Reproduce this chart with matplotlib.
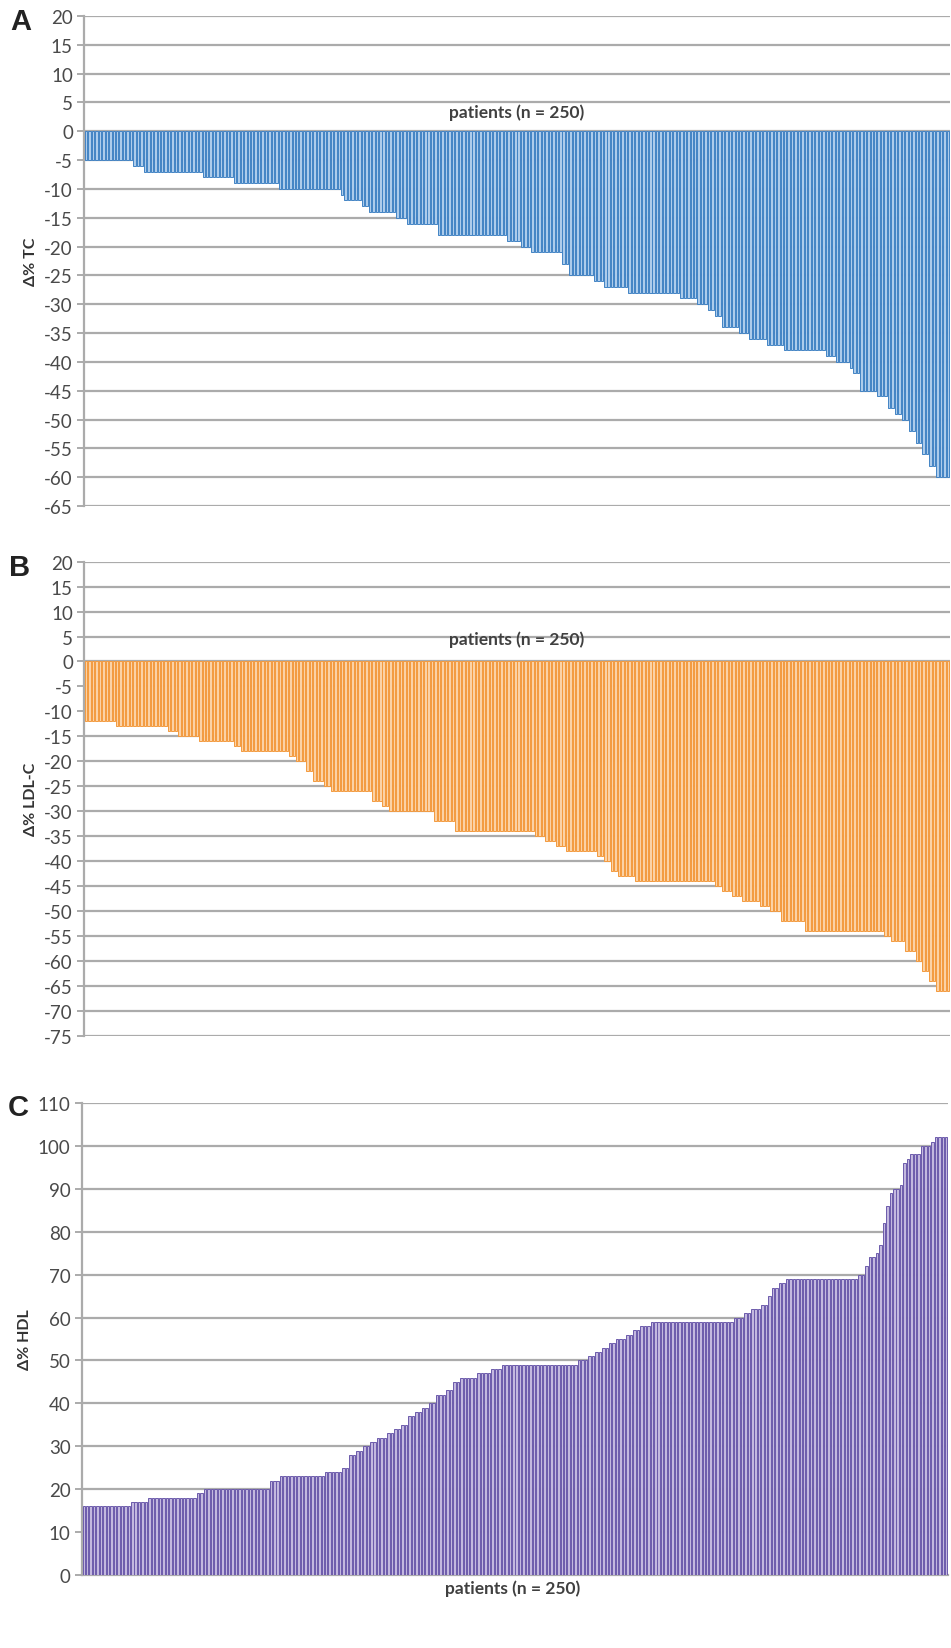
import numpy as np
import matplotlib
matplotlib.use("Agg")
import matplotlib.pyplot as plt

plt.rcParams['font.family'] = ['Lato', 'DejaVu Sans']
plt.rcParams['axes.unicode_minus'] = False

# ---- Data (run-length: value, number of patients), 250 patients per panel ----
tc_values = [-5, -6, -7, -8, -9, -10, -11, -12, -13, -14, -15, -16, -18, -19, -20, -21,
             -23, -25, -26, -27, -28, -29, -30, -31, -32, -34, -35, -36, -37, -38, -39,
             -40, -41, -42, -45, -46, -48, -49, -50, -52, -54, -56, -58, -60]
tc_counts = [14, 3, 17, 9, 13, 18, 1, 5, 2, 8, 3, 9, 20, 4, 3, 9,
             2, 7, 3, 7, 15, 5, 3, 2, 2, 5, 3, 5, 5, 12, 3,
             4, 1, 2, 5, 3, 2, 2, 2, 2, 2, 2, 2, 4]

ldl_values = [-12, -13, -14, -15, -16, -17, -18, -19, -20, -22, -24, -25, -26, -28, -29,
              -30, -32, -34, -35, -36, -37, -38, -39, -40, -42, -43, -44, -45, -46, -47,
              -48, -49, -50, -52, -54, -55, -56, -58, -60, -62, -64, -66]
ldl_counts = [9, 15, 3, 6, 10, 2, 14, 2, 3, 2, 3, 2, 12, 3, 2,
              13, 6, 23, 3, 3, 3, 9, 2, 2, 2, 5, 23, 2, 3, 3,
              5, 3, 3, 7, 23, 2, 4, 3, 2, 2, 2, 4]

hdl_values = [16, 17, 18, 19, 20, 22, 23, 24, 25, 28, 29, 30, 31, 32, 33, 34, 35, 37, 38,
              39, 40, 42, 43, 45, 46, 47, 48, 49, 50, 51, 52, 53, 54, 55, 56, 57, 58, 59,
              60, 61, 62, 63, 65, 67, 68, 69, 70, 72, 74, 75, 77, 82, 86, 89, 90, 91, 96,
              97, 98, 100, 101, 102]
hdl_counts = [14, 5, 14, 2, 19, 3, 13, 5, 2, 2, 2, 2, 2, 3, 2, 2, 2, 2, 2,
              2, 2, 3, 2, 2, 5, 4, 3, 22, 3, 2, 2, 2, 2, 3, 2, 2, 3, 24,
              3, 2, 3, 2, 1, 2, 2, 21, 2, 1, 2, 1, 1, 1, 1, 1, 2, 1, 1,
              1, 3, 3, 1, 4]

tc = np.repeat(tc_values, tc_counts)
ldl = np.repeat(ldl_values, ldl_counts)
hdl = np.repeat(hdl_values, hdl_counts)

W, H = 951, 1649
fig = plt.figure(figsize=(W / 100, H / 100), dpi=100)
fig.patch.set_facecolor('white')

grid_c = '#ABABAB'
tick_c = '#4A4A4A'
lab_c = '#404040'


def panel(rect, data, fc, ec, ylim, step, ylabel, letter, letter_xy, note_y=None):
    ax = fig.add_axes(rect)
    x = np.arange(1, len(data) + 1)
    ax.bar(x, data, width=0.72, color=fc, edgecolor=ec, linewidth=0.7, zorder=3)
    ax.set_xlim(0.4, len(data) + 0.6)
    ax.set_ylim(*ylim)
    ax.set_yticks(np.arange(ylim[0], ylim[1] + 0.1, step))
    ax.yaxis.grid(True, color=grid_c, linewidth=1.6, zorder=1)
    ax.set_axisbelow(True)
    for s in ['top', 'right', 'bottom']:
        ax.spines[s].set_visible(False)
    ax.spines['left'].set_color(grid_c)
    ax.spines['left'].set_linewidth(1.6)
    ax.set_xticks([])
    ax.tick_params(axis='y', colors=grid_c, length=5, width=1.4, labelsize=13.5,
                   labelcolor=tick_c, pad=3)
    ax.set_ylabel(ylabel, fontsize=11.5, fontweight='bold', color='#333333', labelpad=4)
    fig.text(letter_xy[0] / W, 1 - letter_xy[1] / H, letter, fontsize=21,
             fontweight='bold', color='#222222', ha='center', va='center',
             family=['Liberation Sans', 'DejaVu Sans'])
    if note_y is not None:
        ax.text(0.5, note_y, 'patients (n = 250)', transform=ax.get_yaxis_transform(),
                ha='center', va='center', fontsize=12.5, fontweight='bold', color=lab_c,
                zorder=4)
    return ax


axA = panel([84 / W, 1 - 507 / H, 866 / W, 490 / H], tc, '#ADCCEB', '#4283C4',
            (-65, 20), 5, 'Δ% TC', 'A', (21, 22), note_y=3.4)
axB = panel([84 / W, 1 - 1036.7 / H, 866 / W, 474 / H], ldl, '#FBD2A6', '#F39A3E',
            (-75, 20), 5, 'Δ% LDL-C', 'B', (20, 568), note_y=4.6)
axC = panel([81.7 / W, 1 - 1576 / H, 866.6 / W, 472 / H], hdl, '#C3B8DF', '#6C5BAB',
            (0, 110), 10, 'Δ% HDL', 'C', (18, 1108))
axC.spines['bottom'].set_visible(True)
axC.spines['bottom'].set_color(grid_c)
axC.spines['bottom'].set_linewidth(1.6)
fig.text(513 / W, 1 - 1589 / H, 'patients (n = 250)', ha='center', va='center',
         fontsize=12.5, fontweight='bold', color=lab_c)

fig.savefig('out.png', dpi=100, facecolor='white')
